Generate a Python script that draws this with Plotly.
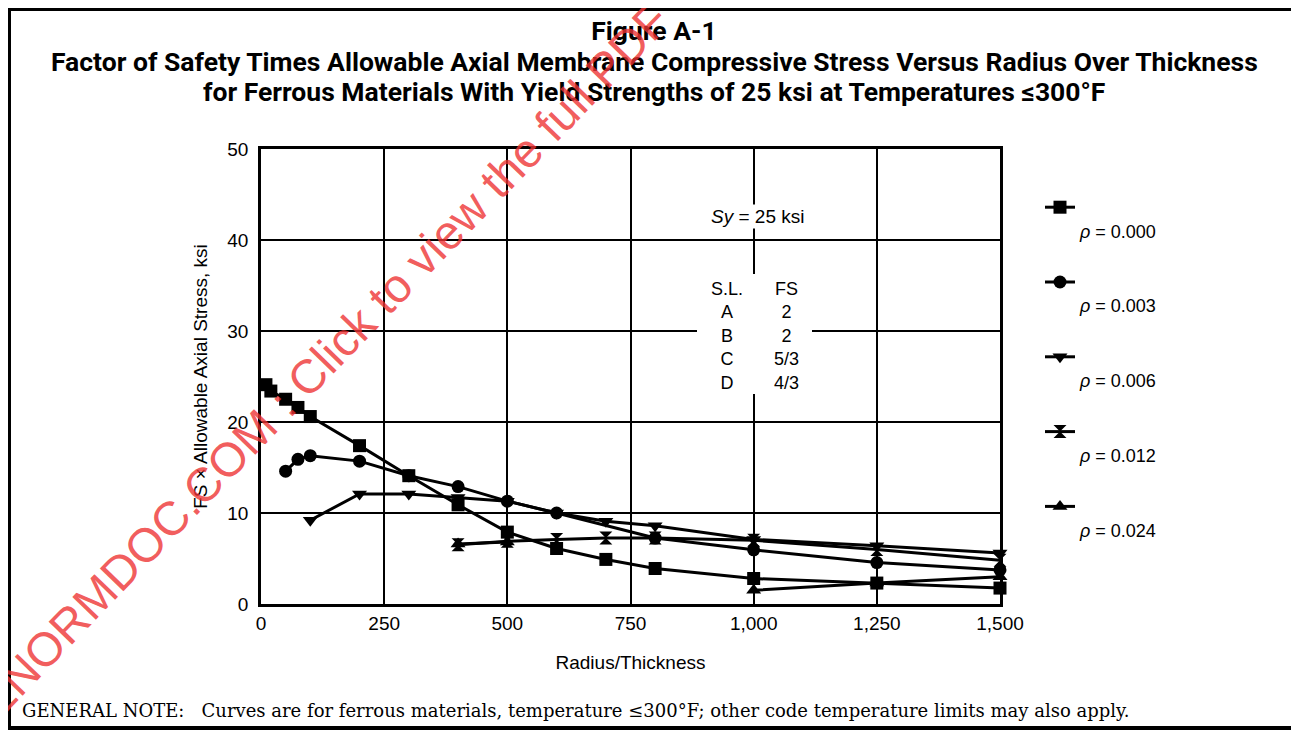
import plotly.graph_objects as go

# Radius/Thickness values and FS x allowable axial stress (ksi) for each rho
r_000 = [10, 20, 50, 75, 100, 200, 300, 400, 500, 600, 700, 800, 1000, 1250, 1500]
s_000 = [24.1, 23.4, 22.5, 21.6, 20.6, 17.4, 14.1, 10.9, 7.9, 6.1, 4.9, 3.9, 2.8, 2.3, 1.75]

r_003 = [50, 75, 100, 200, 300, 400, 500, 600, 800, 1000, 1250, 1500]
s_003 = [14.6, 15.9, 16.3, 15.7, 14.1, 12.9, 11.3, 10.0, 7.25, 5.95, 4.55, 3.75]

r_006 = [100, 200, 300, 400, 500, 600, 700, 800, 1000, 1250, 1500]
s_006 = [9.2, 12.1, 12.1, 11.7, 11.3, 10.0, 9.1, 8.6, 7.1, 6.4, 5.6]

r_012 = [400, 500, 600, 700, 800, 1000, 1250, 1500]
s_012 = [6.5, 6.9, 7.1, 7.25, 7.25, 7.0, 6.0, 4.8]

r_024 = [400, 500, None, 1000, 1250, 1500]
s_024 = [6.6, 6.8, None, 1.5, 2.3, 3.0]

rho_labels = ["0.000", "0.003", "0.006", "0.012", "0.024"]
symbols = ["square", "circle", "triangle-down", "hourglass", "triangle-up"]

x_ticks = [0, 250, 500, 750, 1000, 1250, 1500]
x_ticktext = ["0", "250", "500", "750", "1,000", "1,250", "1,500"]
y_ticks = [0, 10, 20, 30, 40, 50]

table_col1 = ["S.L.", "A", "B", "C", "D"]
table_col2 = ["FS", "2", "2", "5/3", "4/3"]

title_lines = [
    "Figure A-1",
    "Factor of Safety Times Allowable Axial Membrane Compressive Stress Versus Radius Over Thickness",
    "for Ferrous Materials With Yield Strengths of 25 ksi at Temperatures ≤300°F",
]

# page body has an 8px margin, so the figure is a bit smaller and shifted
OFF = 8
W, H = 1299 - OFF, 730 - OFF
L, R, T, B = 261 - OFF, 1000 - OFF, 149 - OFF, 604 - OFF


def px(xp):
    # screen pixel x of the reference -> paper coordinate
    return (xp - OFF - L) / (R - L)


def py(yp):
    return (B - (yp - OFF)) / (B - T)


SANS = "Liberation Sans, Arial, sans-serif"
TITLE_FONT = dict(family="Roboto, sans-serif", size=26.5, color="black")

fig = go.Figure()
series = [(r_000, s_000), (r_003, s_003), (r_006, s_006), (r_012, s_012), (r_024, s_024)]
for i, (xs, ys) in enumerate(series):
    fig.add_trace(go.Scatter(
        x=xs, y=ys, mode="lines+markers",
        name="<br><i>ρ</i> = " + rho_labels[i],
        legendgroup="g%d" % i,
        line=dict(color="black", width=3),
        marker=dict(symbol=symbols[i], size=13, color="black"),
        cliponaxis=False,
    ))

# white box behind the S.L./FS table
fig.add_shape(type="rect", xref="paper", yref="paper",
              x0=px(697), x1=px(812), y0=py(394), y1=py(274),
              fillcolor="white", line=dict(width=0), layer="above")

fig.add_annotation(x=px(757), y=py(216), xref="paper", yref="paper",
                   xanchor="center", yanchor="middle",
                   text="<i>Sy</i> = 25 ksi", showarrow=False, bgcolor="white",
                   font=dict(family=SANS, size=19, color="black"))
fig.add_annotation(x=px(727), y=py(336), xref="paper", yref="paper",
                   xanchor="center", yanchor="middle",
                   text="<br>".join(table_col1), showarrow=False, align="center",
                   font=dict(family=SANS, size=18, color="black"))
fig.add_annotation(x=px(786), y=py(336), xref="paper", yref="paper",
                   xanchor="center", yanchor="middle",
                   text="<br>".join(table_col2), showarrow=False, align="center",
                   font=dict(family=SANS, size=18, color="black"))

# title lines 2 and 3 (line 1 is the layout title)
for yy, line in zip([61, 91], title_lines[1:]):
    fig.add_annotation(x=px(654), y=py(yy), xref="paper", yref="paper",
                       xanchor="center", yanchor="middle",
                       text="<b>" + line + "</b>", showarrow=False, font=TITLE_FONT)

# general note
fig.add_annotation(x=px(20), y=py(710), xref="paper", yref="paper",
                   xanchor="left", yanchor="middle",
                   text="GENERAL NOTE:\u00a0\u00a0\u00a0Curves are for ferrous materials, temperature ≤300°F; "
                        "other code temperature limits may also apply.",
                   showarrow=False,
                   font=dict(family="DejaVu Serif, serif", size=18, color="black"))

# outer frame
fig.add_shape(type="rect", xref="paper", yref="paper",
              x0=px(9), x1=px(1297), y0=py(728), y1=py(9),
              line=dict(color="black", width=4))

# watermark
fig.add_annotation(x=px(356), y=py(326), xref="paper", yref="paper",
                   xanchor="center", yanchor="middle",
                   text="ASMENORMDOC.COM : Click to view the full PDF of ASME",
                   textangle=-46, showarrow=False,
                   font=dict(family=SANS, size=47.5, color="rgba(238,50,50,0.8)"))

fig.update_layout(
    width=W, height=H,
    margin=dict(l=L, r=W - R, t=T, b=H - B),
    paper_bgcolor="white", plot_bgcolor="white",
    title=dict(
        text="<b>" + title_lines[0] + "</b>",
        x=(654 - OFF) / W, xref="container", xanchor="center",
        y=1 - (31 - OFF) / H, yref="container", yanchor="middle",
        font=TITLE_FONT,
    ),
    xaxis=dict(range=[0, 1500], tickvals=x_ticks, ticktext=x_ticktext,
               showgrid=True, gridcolor="black", gridwidth=2, zeroline=False,
               showline=True, linecolor="black", linewidth=2.5, mirror=True,
               ticks="", ticklabelstandoff=0,
               tickfont=dict(family=SANS, size=19, color="black"),
               title=dict(text="Radius/Thickness", standoff=24,
                          font=dict(family=SANS, size=19, color="black"))),
    yaxis=dict(range=[0, 50], tickvals=y_ticks,
               showgrid=True, gridcolor="black", gridwidth=2, zeroline=False,
               showline=True, linecolor="black", linewidth=2.5, mirror=True,
               ticks="", ticklabelstandoff=6,
               tickfont=dict(family=SANS, size=19, color="black"),
               title=dict(text="FS × Allowable Axial Stress, ksi", standoff=15,
                          font=dict(family=SANS, size=19, color="black"))),
    showlegend=True,
    legend=dict(x=px(1040), y=py(189), xanchor="left", yanchor="top",
                bgcolor="rgba(0,0,0,0)", tracegroupgap=25, valign="top",
                font=dict(family=SANS, size=18, color="black")),
)

fig.write_html("out.html")
